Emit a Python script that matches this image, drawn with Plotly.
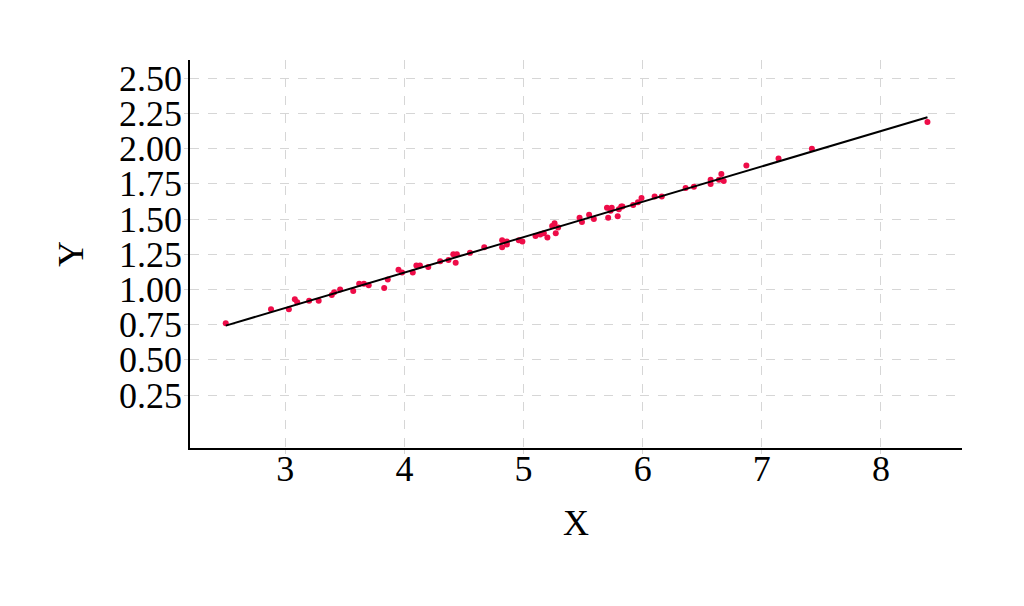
import numpy as np
import plotly.graph_objects as go

x_vals = [2.50, 2.88, 3.03, 3.08, 3.10, 3.20, 3.28, 3.39, 3.41, 3.46, 3.57, 3.62, 3.66, 3.70,
          3.83, 3.86, 3.95, 3.98, 4.07, 4.10, 4.13, 4.20, 4.30, 4.37, 4.41, 4.44, 4.43, 4.55,
          4.67, 4.82, 4.82, 4.86, 4.86, 4.96, 4.99, 5.10, 5.14, 5.17, 5.20, 5.24, 5.26, 5.27,
          5.29, 5.47, 5.49, 5.55, 5.59, 5.70, 5.71, 5.74, 5.73, 5.79, 5.80, 5.82, 5.83, 5.92,
          5.96, 5.99, 6.10, 6.16, 6.36, 6.43, 6.57, 6.57, 6.64, 6.66, 6.68, 6.87, 7.14, 7.42, 8.39]
y_vals = [0.76, 0.86, 0.86, 0.93, 0.91, 0.92, 0.92, 0.96, 0.98, 1.00, 0.99, 1.04, 1.04, 1.03,
          1.01, 1.07, 1.14, 1.12, 1.12, 1.17, 1.17, 1.16, 1.20, 1.21, 1.25, 1.25, 1.19, 1.26,
          1.30, 1.30, 1.35, 1.34, 1.32, 1.35, 1.34, 1.38, 1.39, 1.40, 1.37, 1.45, 1.47, 1.40,
          1.44, 1.51, 1.48, 1.53, 1.50, 1.58, 1.51, 1.58, 1.56, 1.52, 1.57, 1.59, 1.59, 1.60,
          1.62, 1.65, 1.66, 1.66, 1.72, 1.73, 1.78, 1.75, 1.78, 1.82, 1.77, 1.88, 1.93, 2.00, 2.19]

x_ticks = [3, 4, 5, 6, 7, 8]
y_ticks = [0.25, 0.50, 0.75, 1.00, 1.25, 1.50, 1.75, 2.00, 2.25, 2.50]
y_tick_text = ["0.25", "0.50", "0.75", "1.00", "1.25", "1.50", "1.75", "2.00", "2.25", "2.50"]

slope, intercept = np.polyfit(x_vals, y_vals, 1)
line_x = [min(x_vals), max(x_vals)]
line_y = [slope * v + intercept for v in line_x]

font_family = "Liberation Serif, Times New Roman, serif"

fig = go.Figure()
fig.add_trace(go.Scatter(x=x_vals, y=y_vals, mode="markers",
                         marker=dict(color="#ee0c48", size=6, line=dict(width=0)),
                         showlegend=False))
fig.add_trace(go.Scatter(x=line_x, y=line_y, mode="lines",
                         line=dict(color="black", width=2), showlegend=False))

grid = dict(showgrid=True, gridcolor="#d6d6d6", griddash="dash", gridwidth=1)

fig.update_layout(
    width=1008, height=590,
    margin=dict(l=182, r=54, t=52, b=150),
    plot_bgcolor="white", paper_bgcolor="white",
    font=dict(family=font_family, size=36, color="black"),
    xaxis=dict(range=[2.2, 8.68], tickvals=x_ticks, ticktext=[str(t) for t in x_ticks],
               showline=True, linecolor="black", linewidth=1.5, zeroline=False,
               ticks="outside", ticklen=4, tickcolor="#d6d6d6", ticklabelstandoff=-16,
               tickfont=dict(size=36), title=dict(text="X", font=dict(size=36), standoff=22),
               **grid),
    yaxis=dict(range=[-0.126, 2.63], tickvals=y_ticks, ticktext=y_tick_text,
               showline=True, linecolor="black", linewidth=1.5, zeroline=False,
               ticks="outside", ticklen=4, tickcolor="#d6d6d6", ticklabelstandoff=-5,
               tickfont=dict(size=36), title=dict(text="Y", font=dict(size=36), standoff=24),
               **grid),
)

fig.write_html("out.html")
